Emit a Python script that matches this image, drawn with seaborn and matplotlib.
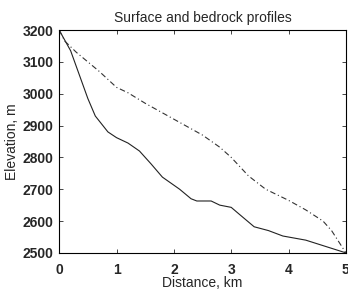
import matplotlib
matplotlib.use("Agg")
import matplotlib.pyplot as plt
import pandas as pd
import seaborn as sns

# Surface profile (dash-dot) and bedrock profile (solid)
surface_km = [0, 0.1, 0.3, 0.5, 0.7, 1.0, 1.2, 1.5, 2.0, 2.5, 2.8, 3.0, 3.3, 3.6, 4.0, 4.3, 4.6, 4.75, 5.0]
surface_m = [3200, 3165, 3130, 3100, 3070, 3020, 3003, 2970, 2920, 2870, 2832, 2800, 2742, 2700, 2665, 2635, 2600, 2570, 2500]

bed_km = [0, 0.2, 0.35, 0.5, 0.63, 0.85, 1.0, 1.2, 1.4, 1.6, 1.8, 2.1, 2.3, 2.4, 2.65, 2.8, 3.0, 3.15, 3.4, 3.65, 3.9, 4.3, 5.0]
bed_m = [3200, 3135, 3060, 2985, 2930, 2880, 2862, 2845, 2820, 2780, 2738, 2700, 2670, 2663, 2663, 2650, 2643, 2620, 2582, 2570, 2553, 2540, 2500]

x_ticks = [0, 1, 2, 3, 4, 5]
y_ticks = [2500, 2600, 2700, 2800, 2900, 3000, 3100, 3200]

df_surf = pd.DataFrame({"dist": surface_km, "elev": surface_m})
df_bed = pd.DataFrame({"dist": bed_km, "elev": bed_m})

sns.set_style("ticks")
plt.rcParams["font.family"] = ["Liberation Sans", "DejaVu Sans"]

fig = plt.figure(figsize=(3.48, 2.89), dpi=100)
ax = fig.add_axes([0.170, 0.125, 0.824, 0.771])

# bedrock (solid) and surface (dash-dot)
sns.lineplot(data=df_bed, x="dist", y="elev", ax=ax, color="#222222", linewidth=0.8)
sns.lineplot(data=df_surf, x="dist", y="elev", ax=ax, color="#333333", linewidth=0.8)
ax.lines[-1].set_dashes([5, 2.5, 1, 2.5])

ax.set_xlim(0, 5)
ax.set_ylim(2500, 3200)
ax.set_xticks(x_ticks)
ax.set_yticks(y_ticks)
ax.tick_params(direction="in", top=True, right=True, length=3, width=0.6, labelsize=10)
ax.tick_params(axis="x", pad=7)
ax.tick_params(axis="y", pad=4)
for lbl in ax.get_xticklabels() + ax.get_yticklabels():
    lbl.set_fontweight("bold")
for s in ax.spines.values():
    s.set_linewidth(0.8)
    s.set_color("black")

ax.set_title("Surface and bedrock profiles", fontsize=10, pad=6)
ax.set_xlabel("Distance, km", fontsize=10)
ax.set_ylabel("Elevation, m", fontsize=10)
ax.xaxis.set_label_coords(0.5, -0.105)
ax.yaxis.set_label_coords(-0.139, 0.5)

fig.savefig("out.png", dpi=100)
